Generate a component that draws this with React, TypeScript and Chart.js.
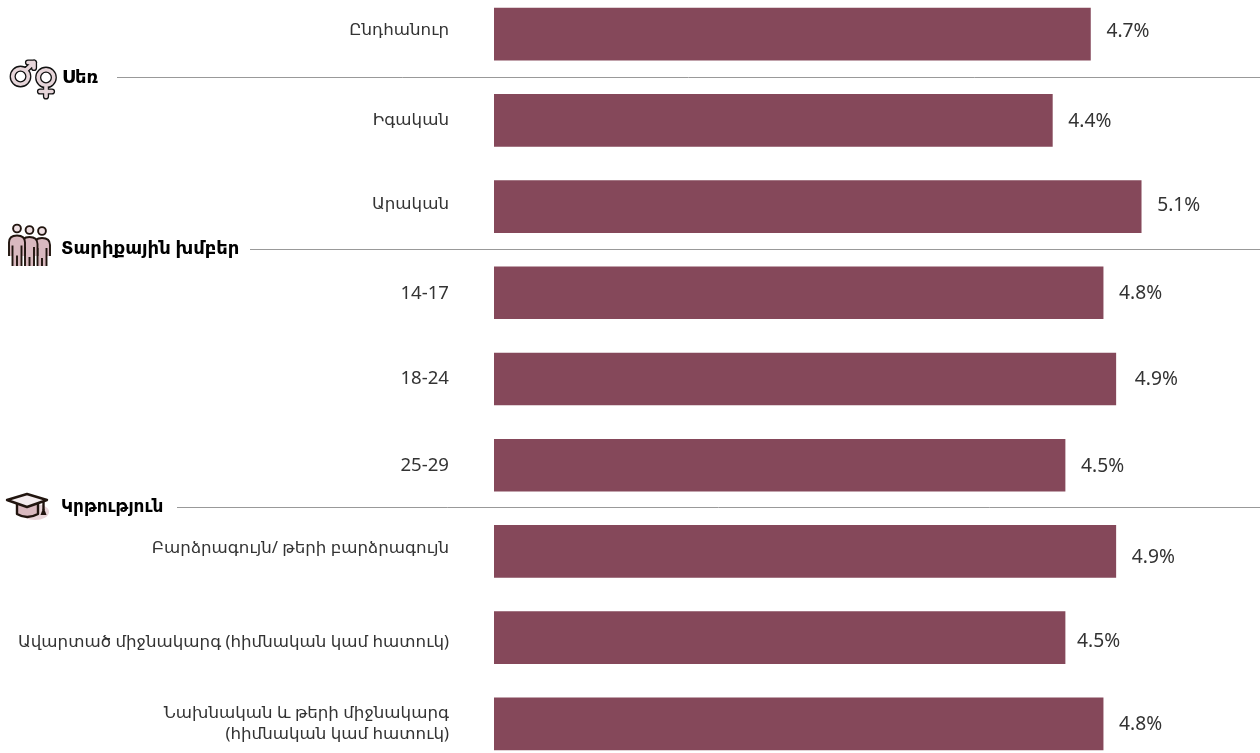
import React, { useEffect, useRef } from "react";
import { Chart, registerables } from "chart.js";

Chart.register(...registerables);

const categories = [
  ["Ընդհանուր"],
  ["Իգական"],
  ["Արական"],
  ["14-17"],
  ["18-24"],
  ["25-29"],
  ["Բարձրագույն/ թերի բարձրագույն"],
  ["Ավարտած միջնակարգ (հիմնական կամ հատուկ)"],
  ["Նախնական և թերի միջնակարգ", "(հիմնական կամ հատուկ)"],
];
const values = [4.7, 4.4, 5.1, 4.8, 4.9, 4.5, 4.9, 4.5, 4.8];
const sectionTitles = ["Սեռ", "Տարիքային խմբեր", "Կրթություն"];
const sectionAfterIndex = [0, 2, 5];

const FONT = '"Noto Sans", "DejaVu Sans", sans-serif';
const BAR = "#85485A";
const PINK = "#D9B9BF";
const INK = "#21150F";
const labelNudgeY = [-4, 0, -2, 1, 0, 0, -3, 5, 0];
const valueNudge: [number, number][] = [
  [1, -3], [1, 1], [1, -1], [1, 1], [4, 1], [1, 1], [1, 6], [-3, 4], [1, 1],
];
const headerX = [62, 61, 61];
const headerNudge = [0, -1, 0];
const headerSize = [17.9, 18, 16.9];
const lineX = [117, 250, 177];
const lineNudge = [0, -1, -1];

function genderIcon(ctx: CanvasRenderingContext2D) {
  ctx.lineCap = "round";
  ctx.lineJoin = "round";
  const paths = () => {
    ctx.beginPath();
    ctx.arc(20.5, 76.5, 7.8, 0, Math.PI * 2);
    ctx.moveTo(26, 70);
    ctx.lineTo(34, 62.5);
    ctx.moveTo(28, 62.5);
    ctx.lineTo(34, 62.5);
    ctx.lineTo(34, 68);
    ctx.stroke();
    ctx.beginPath();
    ctx.arc(46, 77.5, 7.8, 0, Math.PI * 2);
    ctx.moveTo(46, 86);
    ctx.lineTo(46, 96.5);
    ctx.moveTo(40, 91.5);
    ctx.lineTo(52, 91.5);
    ctx.stroke();
  };
  ctx.strokeStyle = "#111111";
  ctx.lineWidth = 6.2;
  paths();
  ctx.strokeStyle = "#E6D5D9";
  ctx.lineWidth = 3.6;
  paths();
}

function peopleIcon(ctx: CanvasRenderingContext2D) {
  ctx.strokeStyle = INK;
  ctx.lineCap = "butt";
  const person = (cx: number, headY: number) => {
    const top = headY + 7;
    ctx.lineWidth = 1.9;
    ctx.beginPath();
    ctx.arc(cx, headY, 3.9, 0, Math.PI * 2);
    ctx.fillStyle = "#EEDFE2";
    ctx.fill();
    ctx.stroke();
    ctx.beginPath();
    ctx.moveTo(cx - 8, 256);
    ctx.lineTo(cx - 8, top + 7);
    ctx.quadraticCurveTo(cx - 8, top, cx, top);
    ctx.quadraticCurveTo(cx + 8, top, cx + 8, top + 7);
    ctx.lineTo(cx + 8, 256);
    ctx.lineTo(cx + 5, 256);
    ctx.lineTo(cx + 5, 266);
    ctx.lineTo(cx - 5, 266);
    ctx.lineTo(cx - 5, 256);
    ctx.closePath();
    ctx.fillStyle = PINK;
    ctx.fill();
    ctx.beginPath();
    ctx.moveTo(cx - 8, 256);
    ctx.lineTo(cx - 8, top + 7);
    ctx.quadraticCurveTo(cx - 8, top, cx, top);
    ctx.quadraticCurveTo(cx + 8, top, cx + 8, top + 7);
    ctx.lineTo(cx + 8, 256);
    ctx.moveTo(cx - 4.5, top + 10);
    ctx.lineTo(cx - 4.5, 266);
    ctx.moveTo(cx + 4.5, top + 10);
    ctx.lineTo(cx + 4.5, 266);
    ctx.moveTo(cx, top + 20);
    ctx.lineTo(cx, 266);
    ctx.stroke();
  };
  person(42, 231);
  person(29.5, 230);
  person(17, 228.5);
}

function capIcon(ctx: CanvasRenderingContext2D) {
  ctx.strokeStyle = INK;
  ctx.lineJoin = "round";
  ctx.lineWidth = 2.4;
  ctx.fillStyle = "#E8D5D9";
  ctx.beginPath();
  ctx.ellipse(35, 512, 14, 8, 0, 0, Math.PI * 2);
  ctx.fill();
  ctx.fillStyle = PINK;
  ctx.beginPath();
  ctx.moveTo(17, 503);
  ctx.lineTo(17, 514);
  ctx.quadraticCurveTo(27, 520, 38, 514);
  ctx.lineTo(38, 503);
  ctx.closePath();
  ctx.fill();
  ctx.stroke();
  ctx.fillStyle = "#F4ECEE";
  ctx.beginPath();
  ctx.moveTo(7, 500);
  ctx.lineTo(27, 494);
  ctx.lineTo(47, 500);
  ctx.lineTo(27, 507);
  ctx.closePath();
  ctx.fill();
  ctx.stroke();
  ctx.beginPath();
  ctx.moveTo(43.5, 502);
  ctx.lineTo(43.5, 510);
  ctx.stroke();
  ctx.fillStyle = INK;
  ctx.beginPath();
  ctx.moveTo(43.5, 507);
  ctx.lineTo(46.5, 515);
  ctx.lineTo(40.5, 515);
  ctx.closePath();
  ctx.fill();
}

const annotate = {
  id: "annotate",
  afterDatasetsDraw(chart: any) {
    const { ctx, scales } = chart;
    const y = scales.y;
    const x = scales.x;
    ctx.save();
    ctx.textBaseline = "middle";
    ctx.textAlign = "left";
    ctx.font = `19.2px ${FONT}`;
    ctx.fillStyle = "#333333";
    values.forEach((v, i) => {
      ctx.fillText(
        `${v.toFixed(1)}%`,
        x.getPixelForValue(v) + 15 + valueNudge[i][0],
        y.getPixelForValue(i) + valueNudge[i][1]
      );
    });
    ctx.textAlign = "right";
    categories.forEach((lines, i) => {
      const c = y.getPixelForValue(i) + labelNudgeY[i];
      ctx.font = /^[0-9]/.test(lines[0]) ? `18.6px ${FONT}` : `16.7px ${FONT}`;
      lines.forEach((line, k) => {
        ctx.fillText(line, 449, c + (k - (lines.length - 1) / 2) * 21);
      });
    });
    sectionTitles.forEach((title, i) => {
      const idx = sectionAfterIndex[i];
      const mid = (y.getPixelForValue(idx) + y.getPixelForValue(idx + 1)) / 2;
      const py = Math.round(mid) + 0.5 + lineNudge[i];
      ctx.strokeStyle = "#999999";
      ctx.lineWidth = 1;
      ctx.beginPath();
      ctx.moveTo(lineX[i], py);
      ctx.lineTo(1260, py);
      ctx.stroke();
      ctx.textAlign = "left";
      ctx.font = `600 ${headerSize[i]}px ${FONT}`;
      ctx.fillStyle = "#000000";
      ctx.fillText(title, headerX[i], py + headerNudge[i]);
    });
    ctx.restore();
    ctx.save();
    ctx.translate(0, 9);
    genderIcon(ctx);
    peopleIcon(ctx);
    capIcon(ctx);
    ctx.restore();
  },
};

export default function App() {
  const ref = useRef<HTMLCanvasElement>(null);
  useEffect(() => {
    document.body.style.margin = "0";
    document.body.style.overflow = "hidden";
    const chart = new Chart(ref.current!, {
      type: "bar",
      data: {
        labels: categories.map((l) => l.join(" ")),
        datasets: [
          {
            data: values,
            backgroundColor: BAR,
            barThickness: 52,
            borderWidth: 0,
          },
        ],
      },
      options: {
        indexAxis: "y",
        animation: false,
        responsive: false,
        layout: { padding: { left: 494, right: 4.6, top: 0, bottom: 0 } },
        plugins: { legend: { display: false }, tooltip: { enabled: false } },
        scales: {
          x: { display: false, min: 0, max: 6 },
          y: { display: false },
        },
      },
      plugins: [annotate],
    });
    return () => chart.destroy();
  }, []);
  return (
    <div style={{ position: "fixed", left: 0, top: 0, width: 1260, height: 753, overflow: "hidden", background: "#fff" }}>
      <canvas ref={ref} width={1260} height={776} style={{ position: "absolute", left: 0, top: -9, width: 1260, height: 776 }} />
    </div>
  );
}
